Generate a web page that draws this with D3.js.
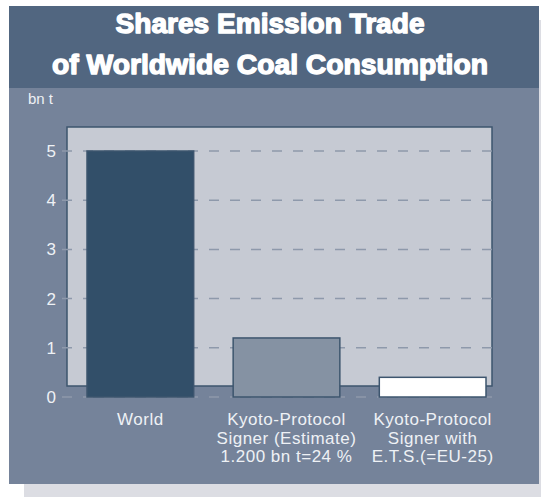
<!DOCTYPE html>
<html>
<head>
<meta charset="utf-8">
<script src="https://cdn.jsdelivr.net/npm/d3@7"></script>
<style>
  html, body { margin: 0; padding: 0; background: #ffffff; }
  svg { display: block; }
</style>
</head>
<body>
<div id="chart"></div>
<script>
// Coal consumption shares, billion tonnes
const titleLines = ["Shares Emission Trade", "of Worldwide Coal Consumption"];
const unitLabel = "bn t";
const categories = ["World", "Kyoto estimate", "Kyoto ETS"];
const categoryLabels = [
  ["World"],
  ["Kyoto-Protocol", "Signer (Estimate)", "1.200 bn t=24 %"],
  ["Kyoto-Protocol", "Signer with", "E.T.S.(=EU-25)"]
];
const values = [5.0, 1.2, 0.4];
const yTicks = [0, 1, 2, 3, 4, 5];
const barFills = ["#324f69", "#8592a3", "#ffffff"];

const W = 541, H = 497;
const svg = d3.select("#chart").append("svg")
  .attr("width", W).attr("height", H);

// drop shadow strips
svg.append("rect").attr("x", 24).attr("y", 484).attr("width", W - 24).attr("height", 13).attr("fill", "#dcdde3");
svg.append("rect").attr("x", 539).attr("y", 20).attr("width", 2).attr("height", 470).attr("fill", "#dcdde3");

// panels
svg.append("rect").attr("x", 9).attr("y", 88).attr("width", 530).attr("height", 396).attr("fill", "#75839a");
svg.append("rect").attr("x", 9).attr("y", 6).attr("width", 530).attr("height", 82).attr("fill", "#516680");

// title
const titleWidths = [309, 436];
svg.append("g").selectAll("text").data(titleLines).join("text")
  .attr("x", 270).attr("y", (d, i) => 32.5 + i * 41)
  .attr("text-anchor", "middle")
  .attr("textLength", (d, i) => titleWidths[i])
  .attr("lengthAdjust", "spacingAndGlyphs")
  .attr("font-family", "'Liberation Sans', Arial, sans-serif")
  .attr("font-weight", "bold")
  .attr("font-size", 28)
  .attr("fill", "#ffffff")
  .attr("stroke", "#ffffff")
  .attr("stroke-width", 1.4)
  .attr("stroke-linejoin", "round")
  .text(d => d);

// unit label
svg.append("text").attr("x", 28).attr("y", 104)
  .attr("font-family", "'Liberation Sans', Arial, sans-serif")
  .attr("font-size", 15).attr("fill", "#eef1f5")
  .text(unitLabel);

// scales
const y = d3.scaleLinear().domain([0, 5]).range([397, 151]);
const x = d3.scaleBand().domain(categories).range([87, 486]).paddingInner(0.27).paddingOuter(0);

// plot box
svg.append("rect").attr("x", 67).attr("y", 127).attr("width", 425).attr("height", 259)
  .attr("fill", "#c6cad3").attr("stroke", "#3d556e").attr("stroke-width", 1.5);

// dashed gridlines (first dash doubles as tick mark)
svg.append("g").selectAll("line").data(yTicks).join("line")
  .attr("x1", 62).attr("x2", 499)
  .attr("y1", d => y(d)).attr("y2", d => y(d))
  .attr("stroke", "#8e99ab").attr("stroke-width", 1.5)
  .attr("stroke-dasharray", "10,11");

// y axis labels
const yAxis = d3.axisLeft(y).tickValues(yTicks).tickSize(0).tickPadding(0).tickFormat(d3.format("d"));
const yg = svg.append("g").attr("transform", "translate(56,0)").call(yAxis);
yg.select(".domain").remove();
yg.selectAll("text")
  .attr("font-family", "'Liberation Sans', Arial, sans-serif")
  .attr("font-size", 17).attr("fill", "#eef1f5");

// bars
svg.append("g").selectAll("rect").data(values).join("rect")
  .attr("x", (d, i) => x(categories[i]))
  .attr("y", d => y(d))
  .attr("width", x.bandwidth())
  .attr("height", d => y(0) - y(d))
  .attr("fill", (d, i) => barFills[i])
  .attr("stroke", "#3d556e").attr("stroke-width", 1.5);

// category labels
const lab = svg.append("g").selectAll("text").data(categoryLabels).join("text")
  .attr("text-anchor", "middle")
  .attr("font-family", "'Liberation Sans', Arial, sans-serif")
  .attr("font-size", 17).attr("letter-spacing", 0.5).attr("fill", "#eef1f5")
  .attr("transform", (d, i) => `translate(${x(categories[i]) + x.bandwidth() / 2},425)`);
lab.selectAll("tspan").data(d => d).join("tspan")
  .attr("x", 0).attr("dy", (d, i) => i === 0 ? 0 : 18.5)
  .text(d => d);
</script>
</body>
</html>
